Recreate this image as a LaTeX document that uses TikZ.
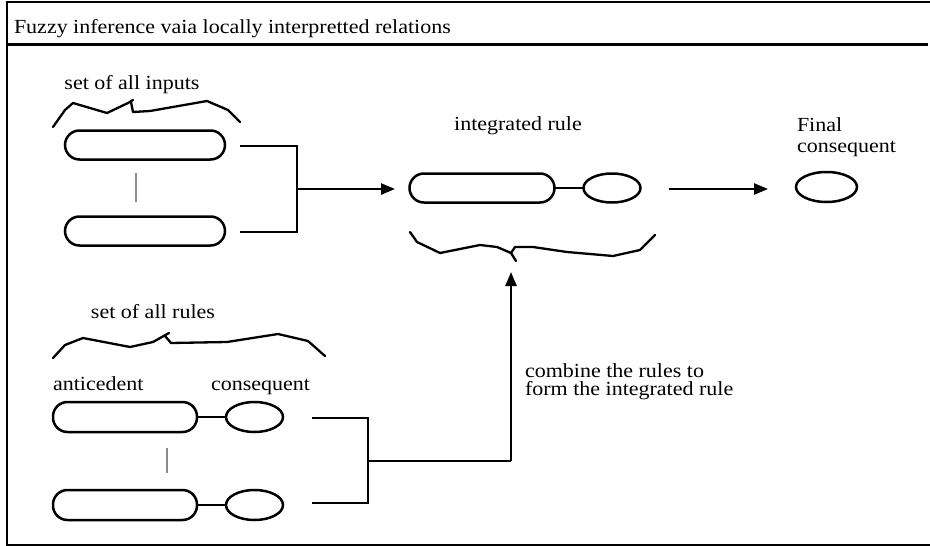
\documentclass[tikz,border=0pt]{standalone}
\usepackage{fontspec}
\setmainfont{Liberation Serif}[FakeStretch=1.1]
\usetikzlibrary{shapes.geometric,arrows.meta,calc}
\begin{document}
\begin{tikzpicture}[x=1pt,y=-1pt,
  every node/.style={inner sep=0pt,outer sep=0pt},
  lbl/.style={anchor=base west,font=\fontsize{20}{23}\selectfont},
  lblc/.style={anchor=base,font=\fontsize{20}{23}\selectfont},
  longoval/.style={draw,line width=2.5pt,rectangle,rounded corners=14.5pt,minimum width=#1,minimum height=29pt},
  smalloval/.style={draw,line width=2.5pt,ellipse,minimum width=#1,minimum height=29pt},
  conn/.style={line width=2.5pt},
  arr/.style={line width=2.5pt,-{Triangle[length=14pt,width=11pt]}},
  bracestyle/.style={line width=2.3pt,line join=round,line cap=round},
  dotsline/.style={line width=2pt,draw=black!45},
  framestyle/.style={line width=2.2pt}]
\useasboundingbox (0,0) rectangle (930,546);
% frame
\draw[framestyle] (7,546) -- (7,2) -- (930,2);
\draw[framestyle] (7,545) -- (930,545);
\draw[line width=3pt] (7,44.5) -- (928,44.5);
\node[lbl] (title) at (14,33) {Fuzzy inference vaia locally interpretted relations};

% inputs
\node[lblc] (tin) at (132,89) {set of all inputs};
\draw[bracestyle] (53,127) -- (65,110) -- (73,103) -- (107,113) -- (128,103) -- (133,100);
\draw[bracestyle] (131,102) -- (133,112) -- (150,111) -- (207,101) -- (228,110) -- (240,122);
\node[longoval=160pt] (in1) at (145,145) {};
\node[longoval=160pt] (in2) at (145,231) {};
\draw[dotsline] (136,173) -- (136,202);
\coordinate (ba) at (297,146);
\coordinate (bb) at (297,232);
\coordinate (bm) at (297,189);
\draw[conn] ($(in1.east)+(15,1)$) -- (ba) -- (bb) -- ($(in2.east)+(15,1)$);
\draw[arr] (bm) -- (395,189) coordinate (tipa);

% integrated rule
\node[lblc] (tint) at (518,130) {integrated rule};
\node[longoval=145pt] (int) at (482,188) {};
\node[smalloval=57pt] (intc) at (612,188) {};
\draw[conn] (int.east) -- (intc.west);
\draw[bracestyle] (410,232) -- (417,242) -- (440,253) -- (480,245) -- (497,247) -- (511,253) -- (516,261);
\draw[bracestyle] (511,253) -- (515,247) -- (533,247) -- (567,252) -- (613,256) -- (640,250) -- (655,235);

% final
\node[lbl] (fin1) at (797,131.5) {Final};
\node[lbl] (fin2) at (797,152.5) {consequent};
\node[smalloval=61pt,minimum height=30pt] (fin) at (826.5,187) {};
\draw[arr] ($(intc.east)+(28,1)$) -- ($(fin.west)+(-28,2)$);

% rules
\node[lblc] (trl) at (153,318) {set of all rules};
\draw[bracestyle] (53,358) -- (65,345) -- (83,338) -- (130,347) -- (153,342) -- (169,333);
\draw[bracestyle] (165,336) -- (171,343) -- (227,342) -- (278,334) -- (308,341) -- (325,356);
\node[lbl] (tant) at (53,390) {anticedent};
\node[lbl] (tcon) at (211,390) {consequent};
\node[longoval=144pt,minimum height=30pt] (ant1) at (125,417) {};
\node[smalloval=57pt,minimum height=30pt] (con1) at (254.5,417) {};
\node[longoval=144pt,minimum height=30pt] (ant2) at (125,505) {};
\node[smalloval=57pt,minimum height=30pt] (con2) at (254.5,505) {};
\draw[conn] (ant1.east) -- (con1.west);
\draw[conn] (ant2.east) -- (con2.west);
\draw[dotsline] (167,448) -- (167,473);
\coordinate (ra) at (368,418);
\coordinate (rb) at (368,503);
\coordinate (rm) at (368,461);
\coordinate (rc) at (511,461);
\draw[conn] ($(con1.east)+(29,1)$) -- (ra) -- (rb) -- ($(con2.east)+(29,-2)$);
\draw[conn] (rm) -- (rc);
\draw[arr] (rc) -- (511,272) coordinate (tipu);
\node[anchor=north west,align=left,font=\fontsize{20}{18.5}\selectfont] (comb) at (525,363.5) {combine the rules to\\form the integrated rule};
\end{tikzpicture}
\end{document}
